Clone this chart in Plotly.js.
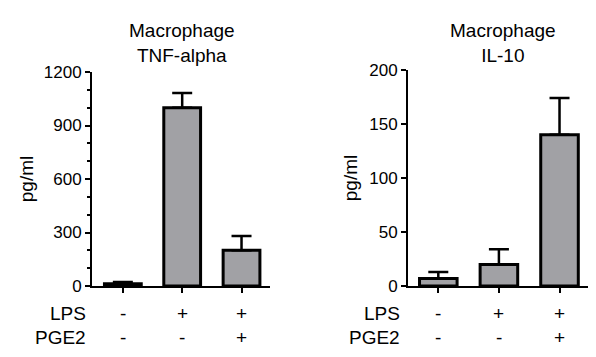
<!DOCTYPE html>
<html>
<head>
<meta charset="utf-8">
<script src="https://cdn.plot.ly/plotly-3.0.1.min.js"></script>
<style>html,body{margin:0;padding:0;background:#fff;}#chart{width:596px;height:357px;}</style>
</head>
<body>
<div id="chart"></div>
<script>
// Data
const categories = ["Control", "LPS", "LPS+PGE2"];
const lpsSigns = ["-", "+", "+"];
const pge2Signs = ["-", "-", "+"];
const tnfValues = [12, 1000, 200];
const tnfErrors = [10, 82, 80];
const il10Values = [7, 20, 140];
const il10Errors = [6, 14, 34];
const tnfTicks = [0, 300, 600, 900, 1200];
const il10Ticks = [0, 50, 100, 150, 200];

const FONT = "'Liberation Sans', Arial, Helvetica, sans-serif";
const FS = 19;
const TICKFS = 17;
const barColor = "#a1a1a5";

function barTrace(vals, errs, xa, ya) {
  return {
    type: "bar", x: categories, y: vals, xaxis: xa, yaxis: ya,
    marker: {color: barColor, line: {color: "#000", width: 3}},
    error_y: {type: "data", array: errs, arrayminus: vals.map(() => 0), symmetric: false,
              color: "#000", thickness: 2.5, width: 10},
    hoverinfo: "x+y", showlegend: false
  };
}

const data = [
  barTrace(tnfValues, tnfErrors, "x", "y"),
  barTrace(il10Values, il10Errors, "x2", "y2")
];

const xCommon = {
  type: "category", showline: true, linecolor: "#000", linewidth: 2,
  ticks: "outside", ticklen: 5, tickwidth: 2, tickcolor: "#000",
  showticklabels: false, showgrid: false, zeroline: false, fixedrange: true
};
const yCommon = {
  showline: true, linecolor: "#000", linewidth: 2,
  ticks: "outside", ticklen: 5, tickwidth: 2, tickcolor: "#000",
  showgrid: false, zeroline: false, tickfont: {family: FONT, size: TICKFS, color: "#000"},
  tickmode: "array"
};

const annotations = [];
function addTitle(text, x) {
  annotations.push({text: text, xref: "paper", yref: "paper", x: x, y: 1 - 18 / 357,
    xanchor: "center", yanchor: "top", showarrow: false,
    font: {family: FONT, size: FS, color: "#000"}});
}
addTitle("Macrophage<br>TNF-alpha", 182 / 596);
addTitle("Macrophage<br>IL-10", 503 / 596);

function addRows(xref, labelX) {
  const rows = [["LPS", lpsSigns, 313], ["PGE2", pge2Signs, 337]];
  rows.forEach(([name, signs, py]) => {
    annotations.push({text: name, xref: "paper", yref: "paper", x: labelX / 596, y: 1 - py / 357,
      xanchor: "right", yanchor: "middle", showarrow: false,
      font: {family: FONT, size: FS, color: "#000"}});
    signs.forEach((s, i) => {
      annotations.push({text: s, xref: xref, yref: "paper", x: categories[i], y: 1 - py / 357,
        xanchor: "center", yanchor: "middle", showarrow: false,
        font: {family: FONT, size: FS, color: "#000"}});
    });
  });
}
addRows("x", 88);
addRows("x2", 402);

const layout = {
  width: 596, height: 357,
  margin: {l: 0, r: 0, t: 0, b: 0},
  paper_bgcolor: "#fff", plot_bgcolor: "#fff",
  bargap: 0.38,
  font: {family: FONT, size: FS, color: "#000"},
  xaxis: Object.assign({}, xCommon, {domain: [92 / 596, 270 / 596], range: [-0.52, 2.48], anchor: "y"}),
  xaxis2: Object.assign({}, xCommon, {domain: [408 / 596, 588 / 596], range: [-0.5, 2.47], anchor: "y2"}),
  yaxis: Object.assign({}, yCommon, {domain: [71 / 357, 285 / 357], range: [0, 1200], tickvals: tnfTicks,
    ticktext: tnfTicks.map(String), anchor: "x",
    title: {text: "pg/ml", font: {family: FONT, size: FS, color: "#000"}, standoff: 5},
    minor: {dtick: 100, tick0: 0, ticks: "outside", ticklen: 3, tickwidth: 2, tickcolor: "#000", showgrid: false}}),
  yaxis2: Object.assign({}, yCommon, {domain: [71 / 357, 287 / 357], range: [0, 200], tickvals: il10Ticks,
    ticktext: il10Ticks.map(String), anchor: "x2",
    title: {text: "pg/ml", font: {family: FONT, size: FS, color: "#000"}, standoff: 7}}),
  annotations: annotations
};

Plotly.newPlot("chart", data, layout, {displayModeBar: false, staticPlot: true});
</script>
</body>
</html>
